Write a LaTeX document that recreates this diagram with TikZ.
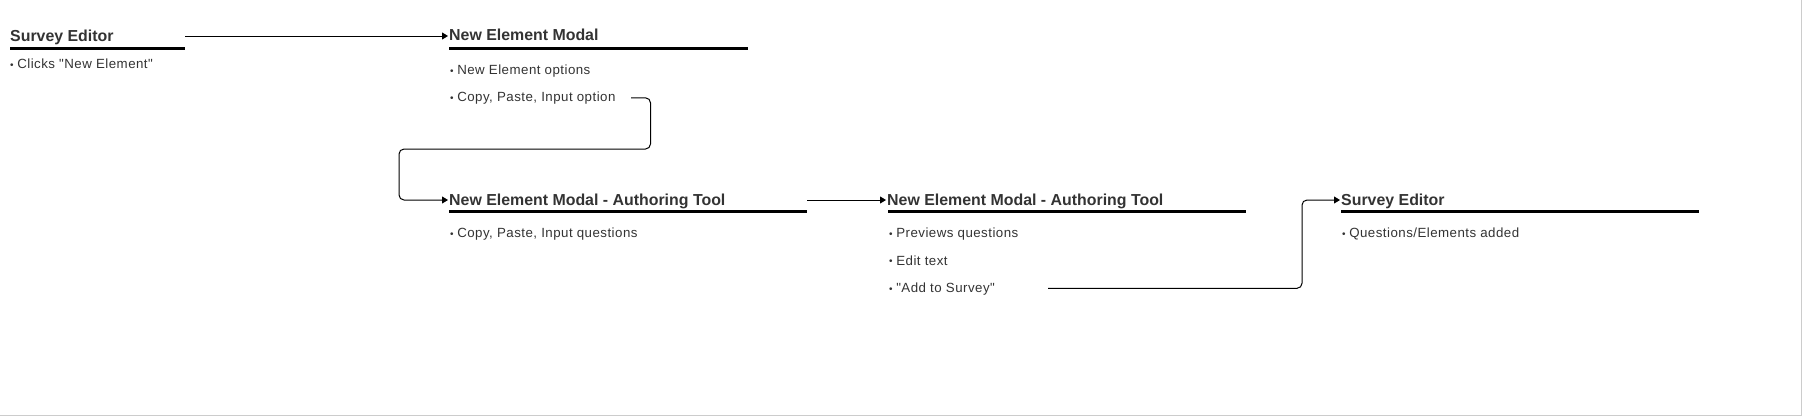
\documentclass[tikz,border=0pt]{standalone}
\usepackage{fontspec}
\setmainfont{Liberation Sans}
\newfontfamily\bodyfam[LetterSpace=3.5]{Liberation Sans}
\usetikzlibrary{arrows.meta,calc}
\definecolor{txt}{HTML}{333333}
\newcommand\bul{{\fontsize{10}{10}\selectfont\raisebox{0.2pt}{•}}\hspace{3.6pt}}
\tikzset{
  ttl/.style={anchor=base west, inner sep=0pt, text=txt, font=\fontsize{15.9}{18}\selectfont\bfseries},
  itm/.style={anchor=base west, inner sep=0pt, text=txt, font=\bodyfam\fontsize{13.3}{15}\selectfont},
  uline/.style={line width=3pt, black},
  conn/.style={line width=1pt, black, rounded corners=5pt, -{Triangle[length=6pt,width=7pt]}}
}
\begin{document}
\begin{tikzpicture}[x=1pt,y=-1pt]
\useasboundingbox (0,0) rectangle (1802,416);
\draw[black!20, line width=1.5pt] (0,415.3) -- (1801.3,415.3) -- (1801.3,0);
% row 1
\node[ttl] (se1) at (10,41.7) {Survey Editor};
\node[itm] (se1a) at (10,68.2) {\bul Clicks "New Element"};
\node[ttl] (nem) at (449,40.7) {New Element Modal};
\node[itm] (nema) at (450,74.2) {\bul New Element options};
\node[itm] (nemb) at (450,101.8) {\bul Copy, Paste, Input option};
% row 2
\node[ttl] (at1) at (449,205) {New Element Modal - Authoring Tool};
\node[itm] (at1a) at (450,237.5) {\bul Copy, Paste, Input questions};
\node[ttl] (at2) at (887,205) {New Element Modal - Authoring Tool};
\node[itm] (at2a) at (889,237.5) {\bul Previews questions};
\node[itm] (at2b) at (889,265) {\bul Edit text};
\node[itm] (at2c) at (889,292.5) {\bul "Add to Survey"};
\node[ttl] (se2) at (1341,205) {Survey Editor};
\node[itm] (se2a) at (1342,237.5) {\bul Questions/Elements added};
% underlines
\draw[uline] ($(se1.base west)+(0,6.8)$) -- ++(175,0);
\draw[uline] ($(nem.base west)+(0,7.8)$) -- ++(299,0);
\draw[uline] ($(at1.base west)+(0,6.5)$) -- ++(358,0);
\draw[uline] ($(at2.base west)+(1,6.5)$) -- ++(358,0);
\draw[uline] ($(se2.base west)+(0,6.5)$) -- ++(358,0);
% connectors
\draw[conn] ($(se1.base west)+(175,-5.7)$) -- ($(nem.base west)+(-1,-4.7)$);
\draw[conn] ($(nemb.base west)+(181,-4)$) -- (650.5,97.8) -- (650.5,149) -- (399,149) -- (399,200) -- ($(at1.base west)+(-1,-5)$);
\draw[conn] ($(at1.base west)+(358,-5)$) -- ($(at2.base west)+(-1,-5)$);
\draw[conn] ($(at2c.base west)+(159,-4.2)$) -- (1302,288.3) -- (1302,200) -- ($(se2.base west)+(-1,-5)$);
\end{tikzpicture}
\end{document}
